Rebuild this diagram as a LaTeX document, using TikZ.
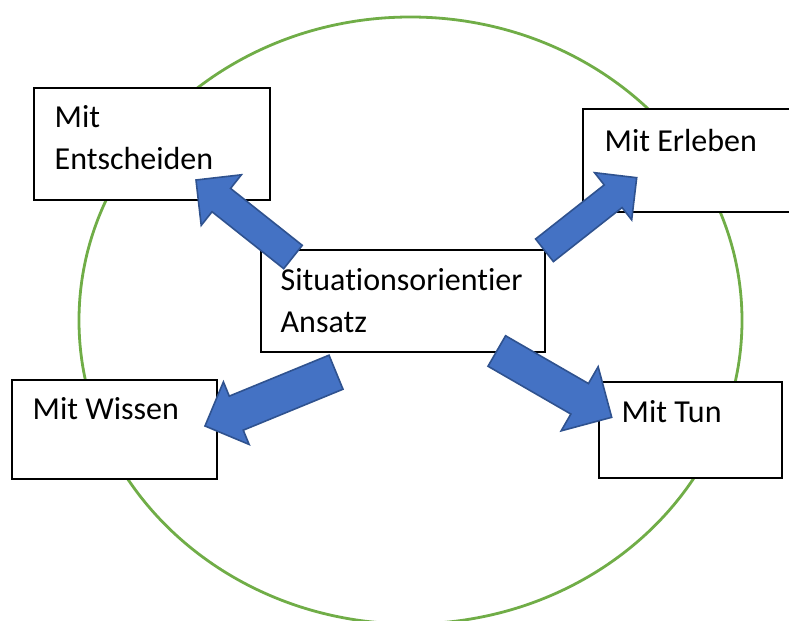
\documentclass[tikz,border=0pt]{standalone}
\usepackage{fontspec}
\setmainfont{Carlito}[Ligatures=NoCommon]
\usetikzlibrary{calc}

\definecolor{ringgreen}{HTML}{70AD47}
\definecolor{arrowfill}{HTML}{4472C4}
\definecolor{arrowline}{HTML}{2F528F}

% block arrow: tail, tip, half shaft width, half head width
\newcommand{\blockarrow}[4]{%
  \coordinate (neck) at ($(#2)!#4!(#1)$);
  \draw[fatarrow] ($(#1)!#3!90:(#2)$) -- ($(neck)!#3!90:(#2)$) -- ($(neck)!#4!90:(#2)$) -- (#2)
    -- ($(neck)!#4!-90:(#2)$) -- ($(neck)!#3!-90:(#2)$) -- ($(#1)!#3!-90:(#2)$) -- cycle;
}

\begin{document}
\begin{tikzpicture}[x=0.5pt, y=-0.5pt,
        box/.style={draw=black, line width=0.7pt, fill=white, inner sep=0pt},
        txt/.style={anchor=base west, inner sep=0pt, align=left, font=\fontsize{16}{20.75}\selectfont},
        ring/.style={draw=ringgreen, line width=1.4pt},
        fatarrow/.style={fill=arrowfill, draw=arrowline, line width=0.8pt}
      ]
      \useasboundingbox (0,0) rectangle (789,621);

      % green ring
      \draw[ring] (410.5,320.5) ellipse [x radius=331.5, y radius=303.5];

      % boxes
      \node[box, minimum width=118pt, minimum height=56pt] (entscheiden) at (152,144) {};
      \node[box, minimum width=107.5pt, minimum height=51.5pt] (erleben) at (690.5,160.5) {};
      \node[box, minimum width=142pt, minimum height=51pt] (ansatz) at (403,301) {};
      \node[box, minimum width=102.5pt, minimum height=49.5pt] (wissen) at (114.5,429.5) {};
      \node[box, minimum width=91.5pt, minimum height=48pt] (tun) at (690.5,430) {};

      % texts (base = baseline of last line)
      \node[txt] (tEntscheiden) at ($(entscheiden.north west)+(21,82)$) {Mit\\Entscheiden};
      \node[txt] (tErleben) at ($(erleben.north west)+(22,43)$) {Mit Erleben};
      \node[txt] (tAnsatz) at ($(ansatz.north west)+(20,83)$) {Situationsorientier\\Ansatz};
      \node[txt] (tWissen) at ($(wissen.north west)+(21,40)$) {Mit Wissen};
      \node[txt] (tTun) at ($(tun.north west)+(23,41)$) {Mit Tun};

      % arrows
      \coordinate (tailE) at (293,257);     \coordinate (tipE) at (196,180);
      \coordinate (tailR) at (544.5,250.3); \coordinate (tipR) at (636.7,177.7);
      \coordinate (tailW) at (336,372.2);   \coordinate (tipW) at (205,426);
      \coordinate (tailT) at (496.8,351);   \coordinate (tipT) at (611.7,417.3);

      \blockarrow{tailE}{tipE}{7.45pt}{16.15pt}
      \blockarrow{tailR}{tipR}{7.2pt}{15pt}
      \blockarrow{tailW}{tipW}{9.2pt}{16.9pt}
      \blockarrow{tailT}{tipT}{8.8pt}{18.5pt}

\end{tikzpicture}
\end{document}
